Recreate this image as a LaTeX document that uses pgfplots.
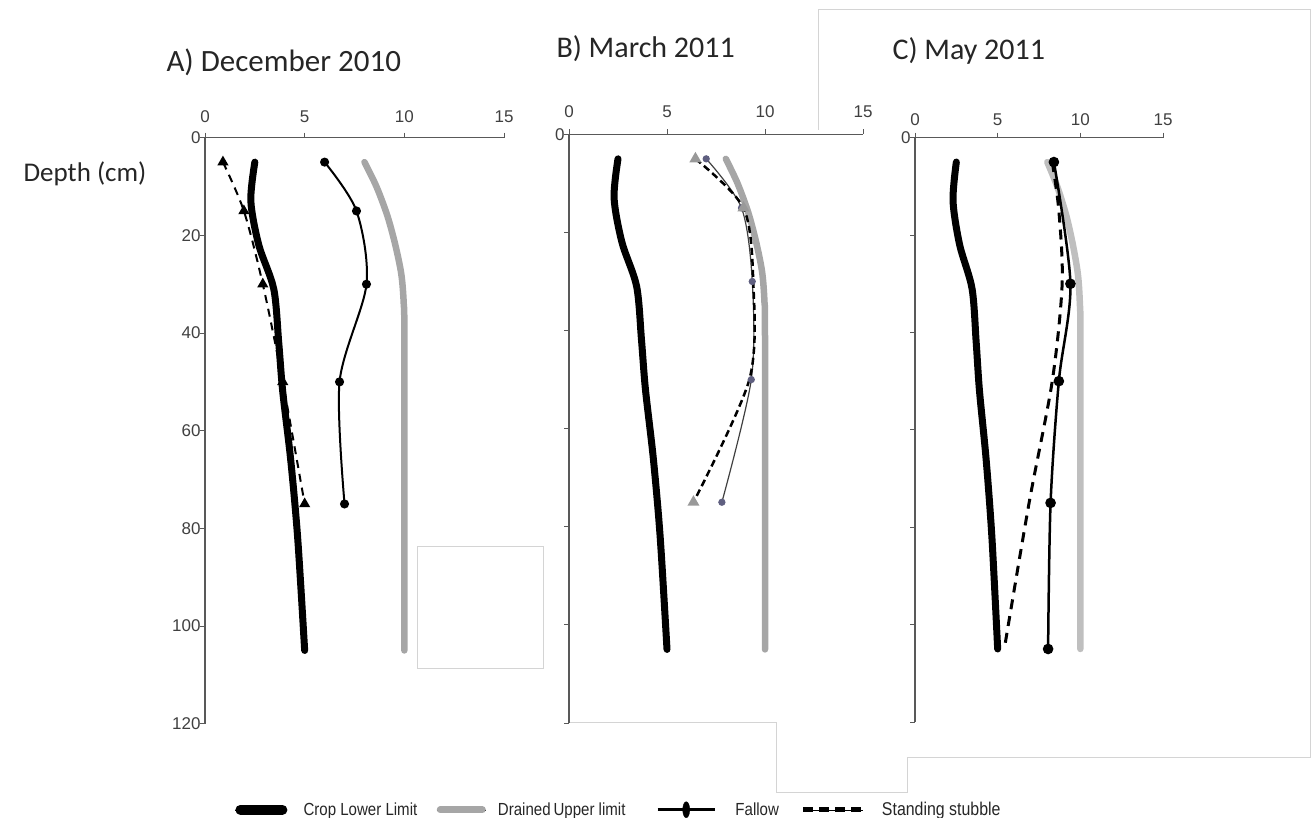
\documentclass[border=0pt]{standalone}
\usepackage{fontspec}
\setmainfont{Liberation Sans}
\newfontfamily\calib{Carlito}
\newfontfamily\narrowf[FakeStretch=0.86]{Liberation Sans}
\usepackage{pgfplots}
\pgfplotsset{compat=1.18}
\definecolor{axg}{HTML}{595959}
\definecolor{dulA}{HTML}{A6A6A6}
\definecolor{dulC}{HTML}{BFBFBF}
\definecolor{slate}{HTML}{5F5F80}
\definecolor{frame}{HTML}{D4D4D4}

\pgfplotstableread{
x y
2.5 5
2.3 13
2.7 22
3.45 31
3.7 42
3.9 52
4.3 66
4.65 82
5.0 105
}\cll
\pgfplotstableread{
x y
8.0 5
8.6 10
9.15 16
9.55 22
9.85 28
9.97 34
10.0 42
10.0 105
}\dul
\pgfplotstableread{
x y
6.0 5
7.6 15
8.1 30
6.75 50
7.0 75
}\fallowA
\pgfplotstableread{
x y
0.9 5
1.95 15
2.9 30
3.9 50
5.0 75
}\stubA
\pgfplotstableread{
x y
7.0 5
8.8 15
9.35 30
9.3 50
7.8 75
}\fallowB
\pgfplotstableread{
x y
6.45 5
8.9 15
9.4 30
9.2 50
6.35 75
}\stubB
\pgfplotstableread{
x y
8.4 5
9.4 30
8.7 50
8.2 75
8.05 105
}\fallowC
\pgfplotstableread{
x y
8.3 5
8.7 15
8.9 30
8.3 50
6.9 75
5.4 105
}\stubC

\pgfplotsset{panel/.style={
  scale only axis,
  axis x line=top, axis y line=left,
  axis line style={-, draw=axg, line width=1.1pt},
  y dir=reverse,
  xmin=0, xmax=15, ymin=0, ymax=120,
  xtick={0,5,10,15}, ytick={0,20,40,60,80,100,120},
  tick align=outside, major tick length=5pt,
  every tick/.style={draw=axg, line width=1pt},
  ticklabel style={font=\fontsize{17}{19}\selectfont, text=black!75},
  xticklabel style={yshift=7pt},
  yticklabel style={xshift=4pt},
  /pgf/number format/assume math mode=true,
  clip=false,
}}

\begin{document}
\begin{tikzpicture}
\useasboundingbox (0pt,0pt) rectangle (1314pt,-818pt);
% stray frame lines of the original figure
\draw[frame, line width=1pt] (417pt,-546pt) rectangle (543pt,-668pt);
\draw[frame, line width=1pt] (818pt,-130pt) -- (818pt,-10pt) -- (1310pt,-10pt) -- (1310pt,-757pt) -- (907pt,-757pt) -- (907pt,-792pt) -- (776pt,-792pt) -- (776pt,-722pt) -- (568pt,-722pt);

\node[anchor=base west, font=\calib\fontsize{31}{36}\selectfont, text=black!85] at (163pt,-72pt) {A) December 2010};
\node[anchor=base west, font=\calib\fontsize{30}{36}\selectfont, text=black!85] at (553pt,-58pt) {B) March 2011};
\node[anchor=base west, font=\calib\fontsize{30}{36}\selectfont, text=black!85] at (889pt,-60pt) {C) May 2011};
\node[font=\calib\fontsize{27}{32}\selectfont, text=black!85] at (85pt,-174pt) {Depth (cm)};

% Panel A
\begin{axis}[panel, at={(205pt,-137.7pt)}, anchor=north west, width=299pt, height=586pt,
  legend columns=4,
  legend style={draw=none, fill=none, inner sep=0pt, at={(0.1003,-0.1468)}, anchor=west,
    /tikz/column sep=0pt,
    nodes={inner xsep=0pt, inner ysep=1pt, font=\narrowf\fontsize{17.5}{19}\selectfont, text=black!85}}]
\addplot[dulA, line width=6.5pt, line cap=round, smooth, forget plot] table {\dul};
\addplot[black, line width=7pt, line cap=round, smooth, forget plot] table {\cll};
\addplot[black, line width=2pt, smooth, mark=*, mark size=3.5pt, forget plot] table {\fallowA};
\addplot[black, line width=2pt, dash pattern=on 8pt off 6pt, smooth, mark=triangle*, mark size=4.5pt, mark options={solid}, forget plot] table {\stubA};
\addlegendimage{legend image code/.code={\path (0pt,0pt) -- (52pt,0pt); \draw[black, line width=10pt, line cap=round] (5pt,0pt) -- (47pt,0pt);}}
\addlegendimage{legend image code/.code={\path (0pt,0pt) -- (49pt,0pt); \draw[dulA, line width=7pt, line cap=round] (3.5pt,0pt) -- (45.5pt,0pt);}}
\addlegendimage{legend image code/.code={\path (0pt,0pt) -- (57pt,0pt); \draw[black, line width=3.5pt] (0pt,0pt) -- (57pt,0pt); \fill[black] (28.5pt,0pt) ellipse (3.5pt and 8pt);}}
\addlegendimage{legend image code/.code={\path (0pt,0pt) -- (60pt,0pt); \draw[black, line width=5.5pt, dash pattern=on 10pt off 6pt] (0pt,0pt) -- (60pt,0pt);}}
\legend{\hspace{16pt}\makebox[133pt][l]{Crop Lower Limit},
        \hspace{12pt}\makebox[158pt][l]{Drained\,Upper limit},
        \hspace{19pt}\makebox[65pt][l]{Fallow},
        \hspace{16pt}{\fontsize{18.5}{20}\selectfont Standing stubble}}
\end{axis}

% Panel B
\begin{axis}[panel, at={(569pt,-134.3pt)}, anchor=north west, width=294pt, height=588.7pt,
  yticklabels={0,,,,,,}, xticklabel style={yshift=1pt}]
\addplot[dulA, line width=6.5pt, line cap=round, smooth] table {\dul};
\addplot[black, line width=7pt, line cap=round, smooth] table {\cll};
\addplot[black!75, line width=1.2pt, smooth, mark=*, mark size=3pt, mark options={fill=slate, draw=slate}] table {\fallowB};
\addplot[black, line width=2.5pt, dash pattern=on 7pt off 4pt, smooth, mark=triangle*, mark size=4.5pt, mark indices={1,2,5}, mark options={solid, fill=black!40, draw=black!40}] table {\stubB};
\end{axis}

% Panel C
\begin{axis}[panel, at={(915pt,-137.7pt)}, anchor=north west, width=248pt, height=584.3pt,
  yticklabels={0,,,,,,}, xticklabel style={yshift=-3pt}]
\addplot[dulC, line width=6.5pt, line cap=round, smooth] table {\dul};
\addplot[black, line width=7pt, line cap=round, smooth] table {\cll};
\addplot[black, line width=2.5pt, smooth, mark=*, mark size=4pt] table {\fallowC};
\addplot[black, line width=3pt, dash pattern=on 10pt off 7pt, smooth] table {\stubC};
\end{axis}
\end{tikzpicture}
\end{document}
